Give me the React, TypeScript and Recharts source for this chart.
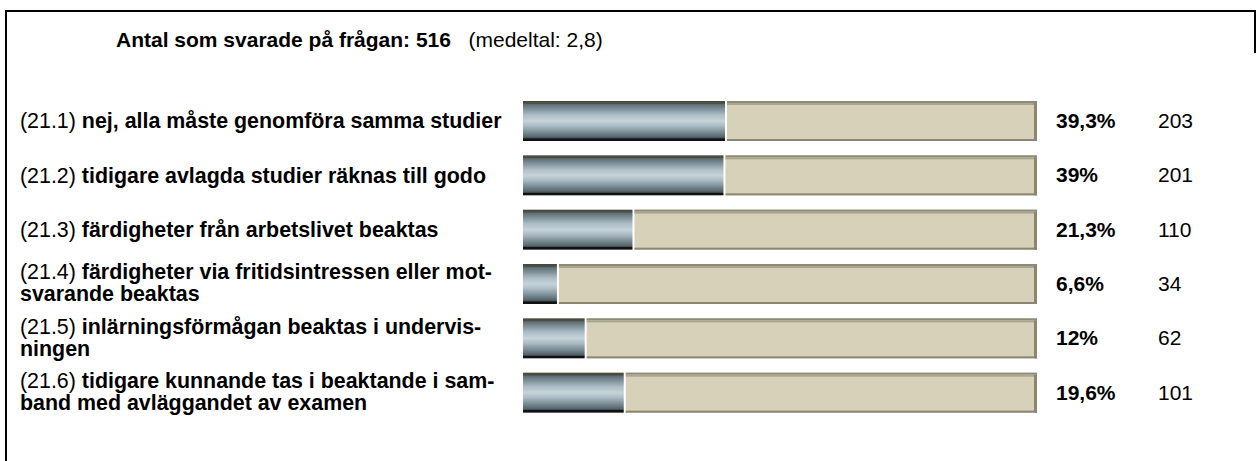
import React from 'react';
import { BarChart, Bar, XAxis, YAxis, LabelList } from 'recharts';

const codes = ['(21.1)', '(21.2)', '(21.3)', '(21.4)', '(21.5)', '(21.6)'];
const labelLines = [
  ['nej, alla måste genomföra samma studier'],
  ['tidigare avlagda studier räknas till godo'],
  ['färdigheter från arbetslivet beaktas'],
  ['färdigheter via fritidsintressen eller mot-', 'svarande beaktas'],
  ['inlärningsförmågan beaktas i undervis-', 'ningen'],
  ['tidigare kunnande tas i beaktande i sam-', 'band med avläggandet av examen'],
];
const percents = [39.3, 39, 21.3, 6.6, 12, 19.6];
const percentLabels = ['39,3%', '39%', '21,3%', '6,6%', '12%', '19,6%'];
const counts = [203, 201, 110, 34, 62, 101];
const totalResponses = 516;
const meanLabel = '2,8';

const data = codes.map((code, i) => ({
  code,
  lines: labelLines[i],
  pct: percents[i],
  rest: 100 - percents[i],
  pctLabel: percentLabels[i],
  count: counts[i],
}));

const FONT = '"Liberation Sans", Arial, Helvetica, sans-serif';
const FS = 21;
const LFS = 21.4;
const W = 1258;
const H = 461;
const LEFT = 20;
const YW = 503;

const LabelTick = (props: any) => {
  const { y, payload } = props;
  const row = data.find((d) => d.code === payload.value);
  if (!row) return null;
  const lines = row.lines;
  const lh = 22;
  const first = y + 7 - ((lines.length - 1) * lh) / 2 - (lines.length > 1 ? 1 : 0);
  return (
    <g>
      {lines.map((ln, i) => (
        <text key={i} x={LEFT} y={first + i * lh} fontFamily={FONT} fontSize={LFS} fill="#000">
          {i === 0 ? (
            <>
              <tspan fontWeight="normal">{row.code} </tspan>
              <tspan fontWeight="bold">{ln}</tspan>
            </>
          ) : (
            <tspan fontWeight="bold">{ln}</tspan>
          )}
        </text>
      ))}
    </g>
  );
};

const ValueShape = (props: any) => {
  const { x, y, width, height } = props;
  if (width <= 0) return null;
  return <rect x={x} y={y} width={width} height={height} fill="url(#metal)" />;
};

const RestShape = (props: any) => {
  const { x, y, width, height } = props;
  const gx = x + 2;
  const w = width - 2;
  return (
    <g>
      <rect x={gx} y={y} width={w} height={height} fill="#d6d1b8" />
      <rect x={gx} y={y} width={w} height={2} fill="#8d8a78" />
      <rect x={gx} y={y + 2} width={w} height={2} fill="#aaa690" />
      <rect x={gx} y={y + height - 2} width={w} height={2} fill="#8a8671" />
      <rect x={gx + w - 3} y={y + 2} width={3} height={height - 2} fill="#8a8671" />
    </g>
  );
};

const PctLabel = (props: any) => {
  const { x, y, width, height, value } = props;
  return (
    <text x={x + width + 19} y={y + height / 2 + 7} fontFamily={FONT} fontSize={FS} fontWeight="bold" fill="#000">
      {value}
    </text>
  );
};

const CountLabel = (props: any) => {
  const { x, y, width, height, value } = props;
  return (
    <text x={x + width + 121} y={y + height / 2 + 7} fontFamily={FONT} fontSize={FS} fill="#000">
      {value}
    </text>
  );
};

export default function App() {
  return (
    <div style={{ position: 'absolute', left: 0, top: 0, width: W, height: H, background: '#fff', fontFamily: FONT }}>
      <div style={{ position: 'absolute', left: 5, top: 10, width: 1251, height: 451, borderTop: '2px solid #000', borderLeft: '2px solid #000', boxSizing: 'border-box' }} />
      <div style={{ position: 'absolute', left: 1254, top: 10, width: 2, height: 43, background: '#000' }} />
      <div style={{ position: 'absolute', left: 116, top: 28, lineHeight: '24px', fontSize: FS, whiteSpace: 'pre', color: '#000' }}>
        <b>{`Antal som svarade på frågan: ${totalResponses}`}</b>
        <span>{`   (medeltal: ${meanLabel})`}</span>
      </div>
      <div style={{ position: 'absolute', left: 0, top: 0 }}>
        <BarChart
          width={W}
          height={H}
          data={data}
          layout="vertical"
          margin={{ top: 94, right: W - 1037, bottom: 41, left: LEFT }}
          barSize={40}
        >
          <defs>
            <linearGradient id="metal" x1="0" y1="0" x2="0" y2="1">
              <stop offset="0" stopColor="#48483c" />
              <stop offset="0.06" stopColor="#4d4f46" />
              <stop offset="0.09" stopColor="#5f6f76" />
              <stop offset="0.2" stopColor="#7e9098" />
              <stop offset="0.35" stopColor="#acbdc5" />
              <stop offset="0.5" stopColor="#c6d4da" />
              <stop offset="0.63" stopColor="#a8b9c1" />
              <stop offset="0.78" stopColor="#798b93" />
              <stop offset="0.9" stopColor="#55656c" />
              <stop offset="0.935" stopColor="#3c4347" />
              <stop offset="0.94" stopColor="#111" />
              <stop offset="1" stopColor="#111" />
            </linearGradient>
          </defs>
          <XAxis type="number" domain={[0, 100]} hide />
          <YAxis
            type="category"
            dataKey="code"
            width={YW}
            axisLine={false}
            tickLine={false}
            interval={0}
            tick={<LabelTick />}
          />
          <Bar dataKey="pct" stackId="a" isAnimationActive={false} shape={<ValueShape />} />
          <Bar dataKey="rest" stackId="a" isAnimationActive={false} shape={<RestShape />}>
            <LabelList dataKey="pctLabel" content={<PctLabel />} />
            <LabelList dataKey="count" content={<CountLabel />} />
          </Bar>
        </BarChart>
      </div>
    </div>
  );
}
